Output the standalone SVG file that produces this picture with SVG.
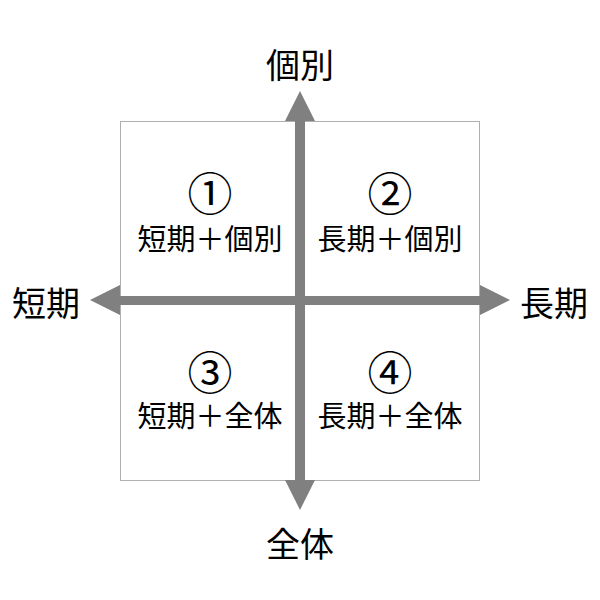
<svg xmlns="http://www.w3.org/2000/svg" width="600" height="600" viewBox="0 0 600 600">
<style>
text{font-family:"Noto Sans CJK JP","Noto Sans CJK SC",sans-serif;fill:#000;text-anchor:middle}
.axis{font-size:34px}
.num{font-size:45px}
.q{font-size:29px}
.arrow{fill:#808080}
</style>
<rect x="0" y="0" width="600" height="600" fill="#fff"/>
<g id="frame"><rect x="120.5" y="121.5" width="359" height="359" fill="none" stroke="#b0b0b0" stroke-width="1"/></g>
<g id="connectors">
<polygon class="arrow" points="295,121 285,121 300,91 315,121 305,121 305,480 315,480 300,510 285,480 295,480"/>
<polygon class="arrow" points="120,296 120,285 90,300 120,315 120,305 480,305 480,315 510,300 480,285 480,296"/>
</g>
<g id="label-top"><text class="axis" x="300" y="78">個別</text></g>
<g id="label-left"><text class="axis" x="46" y="316">短期</text></g>
<g id="label-right"><text class="axis" x="554" y="316">長期</text></g>
<g id="label-bottom"><text class="axis" x="300" y="557">全体</text></g>
<g id="q1"><text class="num" x="210" y="211">①</text><text class="q" x="210" y="250">短期＋個別</text></g>
<g id="q2"><text class="num" x="390" y="211">②</text><text class="q" x="390" y="250">長期＋個別</text></g>
<g id="q3"><text class="num" x="210" y="390">③</text><text class="q" x="210" y="427">短期＋全体</text></g>
<g id="q4"><text class="num" x="390" y="390">④</text><text class="q" x="390" y="427">長期＋全体</text></g>
</svg>
